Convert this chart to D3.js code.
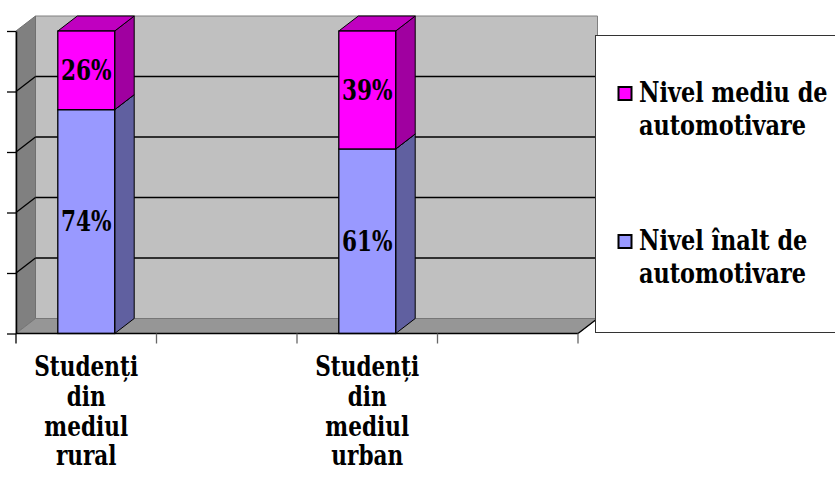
<!DOCTYPE html>
<html>
<head>
<meta charset="utf-8">
<script src="https://cdn.jsdelivr.net/npm/d3@7"></script>
<style>
  html, body { margin: 0; padding: 0; background: #fff; }
  svg { display: block; }
  text { font-family: "DejaVu Serif", serif; font-weight: 700; }
</style>
</head>
<body>
<svg id="chart" width="835" height="481"></svg>
<script>
// Categories (two unlabeled slots keep the spacing of the original sheet)
const categories = ["Studenți din mediul rural", "", "Studenți din mediul urban", ""];
const categoryLines = [["Studenți", "din", "mediul", "rural"], [], ["Studenți", "din", "mediul", "urban"], []];

// Series shares (percent)
const seriesNames = ["Nivel înalt de automotivare", "Nivel mediu de automotivare"];
const highLevel = [74, null, 61, null];
const midLevel = [26, null, 39, null];

const yTicks = [0, 20, 40, 60, 80, 100];

// Colours per series: front, side, top
const palette = [
  { front: "#9999FF", side: "#6060A0", top: "#7A7ACC" },
  { front: "#FF00FF", side: "#A000A0", top: "#C000C0" }
];

// The bold serif face is fairly wide, so text is condensed horizontally around its anchor
const SQUEEZE = 0.8;
const squeeze = (sel, ax) => sel.attr("transform", `translate(${ax},0) scale(${SQUEEZE},1) translate(${-ax},0)`);

const svg = d3.select("#chart");

// Plot frame (front plane) and depth offset of the 3D box
const L = 16, R = 578, T = 31, B = 333.5;
const DX = 19.5, DY = -15;

const x = d3.scaleBand()
  .domain(d3.range(categories.length))
  .range([L, R])
  .paddingInner(0.595)
  .paddingOuter(0.2975);

const y = d3.scaleLinear().domain([0, 100]).range([B, T]);

const pts = a => a.map(p => p.join(",")).join(" ");

// Back wall
svg.append("polygon")
  .attr("points", pts([[L + DX, y(100) + DY], [R + DX, y(100) + DY], [R + DX, y(0) + DY], [L + DX, y(0) + DY]]))
  .attr("fill", "#C0C0C0").attr("stroke", "#808080").attr("stroke-width", 1);

// Left side wall
svg.append("polygon")
  .attr("points", pts([[L, y(100)], [L + DX, y(100) + DY], [L + DX, y(0) + DY], [L, y(0)]]))
  .attr("fill", "#808080").attr("stroke", "#707070").attr("stroke-width", 1);

// Floor
svg.append("polygon")
  .attr("points", pts([[L, y(0)], [R, y(0)], [R + DX, y(0) + DY], [L + DX, y(0) + DY]]))
  .attr("fill", "#969696").attr("stroke", "#777").attr("stroke-width", 1);

// Gridlines on the back wall and the side wall
const inner = yTicks.filter(t => t > 0 && t < 100);
svg.append("g").selectAll("line").data(inner).join("line")
  .attr("x1", L + DX).attr("x2", R + DX)
  .attr("y1", d => y(d) + DY).attr("y2", d => y(d) + DY)
  .attr("stroke", "#000").attr("stroke-width", 1.3);
svg.append("g").selectAll("line").data(inner).join("line")
  .attr("x1", L).attr("x2", L + DX)
  .attr("y1", d => y(d)).attr("y2", d => y(d) + DY)
  .attr("stroke", "#000").attr("stroke-width", 1.3);

// Stacked 3D bars
const stackData = categories.map((c, i) => ({ i, high: highLevel[i], mid: midLevel[i] }));
const stack = d3.stack().keys(["high", "mid"]).value((d, k) => d[k] || 0);
const layers = stack(stackData);

const bars = svg.append("g");
layers.forEach((layer, si) => {
  const col = palette[si];
  layer.forEach(seg => {
    const d = seg.data;
    if (d.high == null) return;
    const x0 = x(d.i), x1 = x0 + x.bandwidth();
    const yb = y(seg[0]), yt = y(seg[1]);
    const g = bars.append("g");
    g.append("polygon")
      .attr("points", pts([[x1, yt], [x1 + DX, yt + DY], [x1 + DX, yb + DY], [x1, yb]]))
      .attr("fill", col.side).attr("stroke", "#000").attr("stroke-width", 1);
    g.append("polygon")
      .attr("points", pts([[x0, yt], [x1, yt], [x1 + DX, yt + DY], [x0 + DX, yt + DY]]))
      .attr("fill", col.top).attr("stroke", "#000").attr("stroke-width", 1);
    g.append("rect")
      .attr("x", x0).attr("y", yt).attr("width", x1 - x0).attr("height", yb - yt)
      .attr("fill", col.front).attr("stroke", "#000").attr("stroke-width", 1.3);
  });
});

// Value labels on the front faces
layers.forEach(layer => {
  layer.forEach(seg => {
    const d = seg.data;
    if (d.high == null) return;
    const cx = x(d.i) + x.bandwidth() / 2;
    svg.append("text")
      .attr("x", cx)
      .attr("y", (y(seg[0]) + y(seg[1])) / 2)
      .attr("dy", "0.36em")
      .attr("text-anchor", "middle")
      .attr("font-size", 27)
      .text((seg[1] - seg[0]) + "%")
      .call(squeeze, cx);
  });
});

// Value axis (front left edge)
const yAxis = svg.append("g")
  .attr("transform", `translate(${L},0)`)
  .call(d3.axisLeft(y).tickValues(yTicks).tickFormat("").tickSize(9).tickSizeOuter(0));
yAxis.select(".domain").attr("stroke", "#000").attr("stroke-width", 1.5);
yAxis.selectAll(".tick line").attr("stroke", "#000").attr("stroke-width", 1.3);

// Category axis along the front floor edge
svg.append("line")
  .attr("x1", L).attr("x2", R).attr("y1", y(0)).attr("y2", y(0))
  .attr("stroke", "#000").attr("stroke-width", 1.6);
svg.append("line")
  .attr("x1", R).attr("x2", R + DX).attr("y1", y(0)).attr("y2", y(0) + DY)
  .attr("stroke", "#000").attr("stroke-width", 1.3);
const bounds = d3.range(categories.length + 1).map(k => L + k * x.step());
svg.append("g").selectAll("line").data(bounds).join("line")
  .attr("x1", d => d).attr("x2", d => d)
  .attr("y1", y(0)).attr("y2", y(0) + 10)
  .attr("stroke", (d, k) => k === 0 ? "#000" : "#666").attr("stroke-width", 1.3);

// Category labels
const catG = svg.append("g");
categoryLines.forEach((lines, i) => {
  if (!lines.length) return;
  const cx = x(i) + x.bandwidth() / 2;
  const t = catG.append("text")
    .attr("text-anchor", "middle")
    .attr("font-size", 27)
    .call(squeeze, cx);
  lines.forEach((ln, k) => {
    t.append("tspan")
      .attr("x", cx)
      .attr("y", 376 + k * 29.8)
      .text(ln);
  });
});

// Legend
const lg = svg.append("g");
lg.append("rect")
  .attr("x", 595.5).attr("y", 35.5).attr("width", 260).attr("height", 297)
  .attr("fill", "#fff").attr("stroke", "#333").attr("stroke-width", 1);
const legendItems = [
  { name: seriesNames[1], lines: ["Nivel mediu de", "automotivare"], color: palette[1].front, y: 102 },
  { name: seriesNames[0], lines: ["Nivel înalt de", "automotivare"], color: palette[0].front, y: 250 }
];
legendItems.forEach(it => {
  lg.append("rect")
    .attr("x", 618.5).attr("y", it.y - 15).attr("width", 13).attr("height", 13)
    .attr("fill", it.color).attr("stroke", "#000").attr("stroke-width", 2);
  const t = lg.append("text").attr("font-size", 28).call(squeeze, 639);
  it.lines.forEach((ln, k) => {
    t.append("tspan").attr("x", 639).attr("y", it.y + k * 33).text(ln);
  });
});
</script>
</body>
</html>
